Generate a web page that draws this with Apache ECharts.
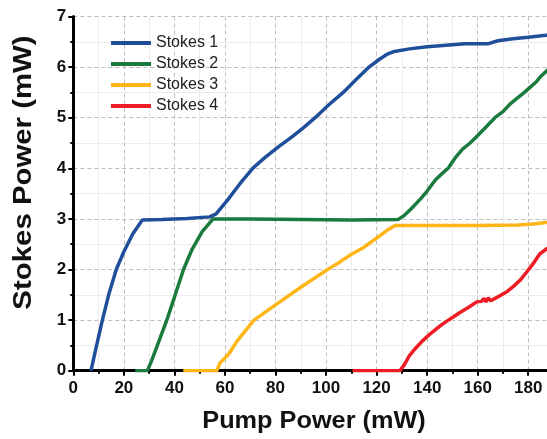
<!DOCTYPE html>
<html>
<head>
<meta charset="utf-8">
<script src="https://cdn.jsdelivr.net/npm/echarts@6/dist/echarts.min.js"></script>
<style>html,body{margin:0;padding:0;background:#fff;overflow:hidden;width:547px;height:439px;}#c{width:580px;height:439px;}</style>
</head>
<body>
<div id="c"></div>
<script>
// ---- data (Pump Power mW, Stokes Power mW) ----
const seriesNames = ['Stokes 1', 'Stokes 2', 'Stokes 3', 'Stokes 4'];
const stokes1 = [[7,0],[9,0.45],[11.5,1],[14,1.5],[17,2],[20,2.35],[23.5,2.7],[27.3,2.98],[35,2.99],[45,3.01],[54,3.04],[56.5,3.1],[61,3.37],[66,3.7],[71,4.0],[76,4.22],[81,4.42],[86.5,4.62],[91,4.8],[95.7,5.0],[101,5.25],[106.8,5.5],[112,5.76],[117,6.0],[121,6.15],[124,6.25],[127,6.31],[133,6.36],[140,6.4],[150,6.44],[155,6.46],[160,6.46],[164,6.46],[168,6.52],[174,6.56],[180,6.59],[187,6.63],[192,6.66]];
const stokes2 = [[24.5,0],[29.3,0],[31,0.2],[34,0.6],[37,1.0],[40,1.45],[43.6,2.0],[47,2.4],[51,2.75],[55.3,3.0],[70,3.0],[90,2.99],[110,2.98],[128.5,2.99],[131,3.07],[133.7,3.2],[137.5,3.4],[140,3.55],[143.4,3.78],[146,3.9],[148.3,4.0],[151,4.2],[154,4.38],[157,4.5],[160,4.65],[163,4.8],[166.8,5.0],[170,5.12],[173,5.28],[176,5.4],[178,5.48],[180.7,5.6],[183,5.7],[185,5.82],[187.4,5.93],[190,6.05]];
const stokes3 = [[43.5,0],[56.8,0],[58,0.15],[61.5,0.33],[65,0.6],[71.5,1.0],[80,1.3],[90,1.65],[100.6,2.0],[105.5,2.15],[110,2.3],[114.4,2.42],[120,2.62],[124,2.77],[127.3,2.87],[140,2.87],[160,2.87],[176,2.88],[182,2.9],[187,2.93],[192,2.96]];
const stokes4 = [[110.5,0],[129.2,0],[131,0.12],[133,0.3],[135.5,0.45],[138.4,0.6],[141,0.72],[145,0.88],[147.5,0.97],[150.3,1.06],[153,1.15],[156.9,1.27],[159.6,1.36],[161.5,1.37],[162.5,1.43],[163.3,1.36],[164.2,1.44],[165.2,1.38],[166.5,1.42],[168.8,1.48],[171.5,1.56],[174,1.66],[177,1.8],[179.4,1.95],[182,2.12],[184.6,2.31],[187.3,2.41],[190,2.48]];
const colors = ['#1f4f9b', '#1b7b3f', '#fdb517', '#ee1c24'];
const xTitle = 'Pump Power (mW)';
const yTitle = 'Stokes Power (mW)';

const chart = echarts.init(document.getElementById('c'), null, {renderer: 'canvas'});
const allData = [stokes1, stokes2, stokes3, stokes4];
const FONT = '"Liberation Sans", Arial, sans-serif';

const axisCommon = {
  axisLine: {show: true, onZero: false, lineStyle: {color: '#000', width: 3}},
  axisTick: {show: true, inside: false, length: 5, lineStyle: {color: '#000', width: 2}},
  minorTick: {show: true, splitNumber: 2, length: 3, lineStyle: {color: '#000', width: 2}},
  splitLine: {show: true, lineStyle: {color: '#bdbdbd', width: 1, type: [4, 3]}},
  minorSplitLine: {show: true, lineStyle: {color: '#ececec', width: 1}},
  axisLabel: {color: '#111', fontWeight: 'bold', fontSize: 17, fontFamily: FONT}
};

chart.setOption({
  animation: false,
  backgroundColor: '#fff',
  color: colors,
  grid: {left: 73.3, top: 16.5, bottom: 68.3, right: 1.2, containLabel: false, outerBoundsMode: 'none'},
  legend: {
    orient: 'vertical', left: 111, top: 35, padding: 0, icon: 'rect', itemWidth: 40, itemHeight: 4, itemGap: 5,
    textStyle: {fontSize: 16, fontFamily: FONT, color: '#222', lineHeight: 16},
    data: seriesNames
  },
  xAxis: [
    Object.assign({}, axisCommon, {type: 'value', min: 0, max: 200, interval: 20, position: 'bottom',
      axisLabel: Object.assign({}, axisCommon.axisLabel, {margin: 9})}),
    {type: 'value', min: 0, max: 200, position: 'top', axisLine: {show: true, lineStyle: {color: '#000', width: 3}},
      axisTick: {show: false}, axisLabel: {show: false}, splitLine: {show: false}}
  ],
  yAxis: Object.assign({}, axisCommon, {type: 'value', min: 0, max: 7, interval: 1,
    axisLabel: Object.assign({}, axisCommon.axisLabel, {margin: 7})}),
  series: allData.map((d, i) => ({
    name: seriesNames[i], type: 'line', data: d, showSymbol: false, symbol: 'none',
    lineStyle: {width: 3.5, color: colors[i]}, itemStyle: {color: colors[i]}, z: 3 + (3 - i)
  })),
  graphic: [
    {type: 'text', x: 314, y: 421.5, scaleX: 1.1, style: {text: xTitle, font: 'bold 23px ' + FONT, fill: '#111', align: 'center', verticalAlign: 'middle'}},
    {type: 'text', x: 24, y: 172.5, rotation: Math.PI / 2, scaleX: 1.13, style: {text: yTitle, font: 'bold 26px ' + FONT, fill: '#111', align: 'center', verticalAlign: 'middle'}}
  ]
});
</script>
</body>
</html>
